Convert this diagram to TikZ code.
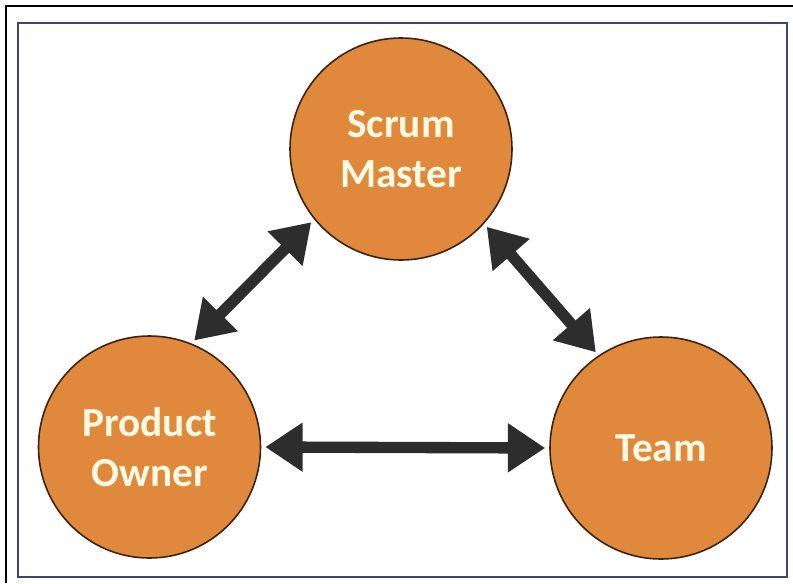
\documentclass[tikz,border=0pt]{standalone}
\usepackage{fontspec}
\setmainfont{Carlito}
\usetikzlibrary{arrows.meta}
\definecolor{rolefill}{RGB}{224,137,60}
\definecolor{roleline}{RGB}{60,35,20}
\definecolor{roletext}{RGB}{255,250,228}
\definecolor{arrowgray}{RGB}{45,45,45}
\definecolor{framecol}{RGB}{60,70,110}
\tikzset{
  role/.style={circle, fill=rolefill, draw=roleline, line width=1.2pt,
    minimum size=166.5pt, inner sep=0pt, text=roletext, align=center,
    font=\bfseries\fontsize{31pt}{38pt}\selectfont},
  link/.style={draw=arrowgray, line width=8.5pt,
    {Triangle[length=28pt,width=35pt]}-{Triangle[length=28pt,width=35pt]},
    shorten <=3pt, shorten >=3pt},
  frame/.style={draw=framecol, line width=1.5pt},
  edge line/.style={draw=black, line width=1.5pt}
}
\begin{document}
\begin{tikzpicture}[x=0.75pt,y=-0.75pt]
\useasboundingbox (0,0) rectangle (793,583);
\fill[white] (0,0) rectangle (793,583);
\coordinate (ctop) at (793,6);
\coordinate (corner) at (6,6);
\coordinate (cbot) at (6,583);
\draw[edge line] (cbot) -- (corner) -- (ctop);
\draw[frame] (18,23) rectangle (787,577);
\node[role] (sm) at (401,149) {Scrum\\Master};
\node[role] (po) at (149.5,447) {Product\\Owner};
\node[role] (team) at (661,448) {Team};
\draw[link] (po.68) -- (sm.219);
\draw[link] (sm.318) -- (team.124);
\draw[link] (po.east) -- (team.west);
\end{tikzpicture}
\end{document}
